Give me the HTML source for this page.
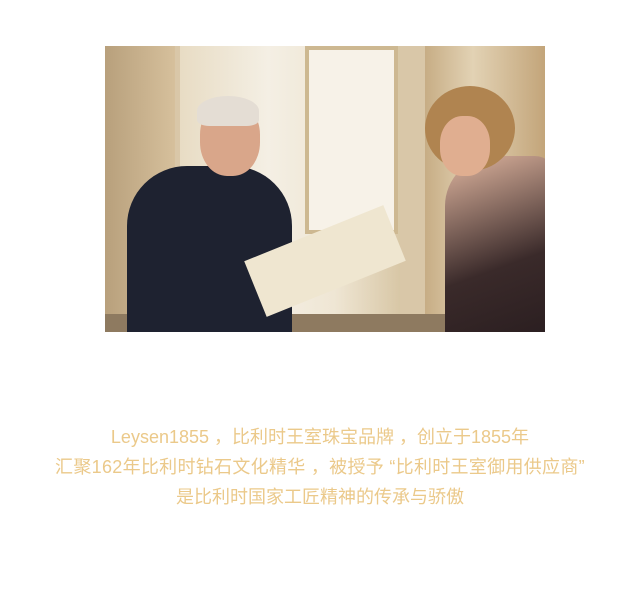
<!DOCTYPE html>
<html><head><meta charset="utf-8"><style>
body{margin:0;width:640px;height:594px;background:#fff;position:relative;overflow:hidden}
.p{position:absolute}
.txt{position:absolute;left:0;width:640px;text-align:center;color:#ebc98a;font-family:"Liberation Sans","Noto Sans CJK SC",sans-serif;font-size:18px;line-height:30px}
</style></head><body>
<div class="p" style="left:105px;top:46px;width:440px;height:286px;overflow:hidden;background:#d9c7a8">
 <div class="p" style="left:0;top:0;width:70px;height:286px;background:linear-gradient(90deg,#b8a07c,#d6c09c)"></div>
 <div class="p" style="left:75px;top:0;width:220px;height:270px;background:linear-gradient(90deg,#e8dcc4,#f4efe4 40%,#efe6d4 70%,#d8c7a6)"></div>
 <div class="p" style="left:200px;top:0;width:85px;height:180px;background:#f7f2e8;border:4px solid #cdb891"></div>
 <div class="p" style="left:320px;top:0;width:120px;height:286px;background:linear-gradient(90deg,#c7ad85,#e2d2b4 40%,#c3a57a)"></div>
 <div class="p" style="left:0;top:268px;width:440px;height:18px;background:#8e7a60"></div>
 <div class="p" style="left:22px;top:120px;width:165px;height:170px;background:#1e2230;border-radius:60px 60px 0 0"></div>
 <div class="p" style="left:95px;top:55px;width:60px;height:75px;background:#d9a68a;border-radius:45%"></div>
 <div class="p" style="left:92px;top:50px;width:62px;height:30px;background:#e4ddd4;border-radius:50% 50% 20% 20%"></div>
 <div class="p" style="left:145px;top:185px;width:150px;height:60px;background:#efe6d0;transform:rotate(-22deg)"></div>
 <div class="p" style="left:340px;top:110px;width:110px;height:180px;background:linear-gradient(160deg,#e0b6a0,#3a2a2a 60%,#2a1e20);border-radius:50px 20px 0 0"></div>
 <div class="p" style="left:320px;top:40px;width:90px;height:85px;background:#b08450;border-radius:50%"></div>
 <div class="p" style="left:335px;top:70px;width:50px;height:60px;background:#e0ae90;border-radius:45%"></div>
</div>
<div class="txt" style="top:422px">Leysen1855 ，比利时王室珠宝品牌 ，创立于1855年</div>
<div class="txt" style="top:452px;letter-spacing:0.3px">汇聚162年比利时钻石文化精华 ，被授予 “比利时王室御用供应商”</div>
<div class="txt" style="top:482px">是比利时国家工匠精神的传承与骄傲</div>
</body></html>
